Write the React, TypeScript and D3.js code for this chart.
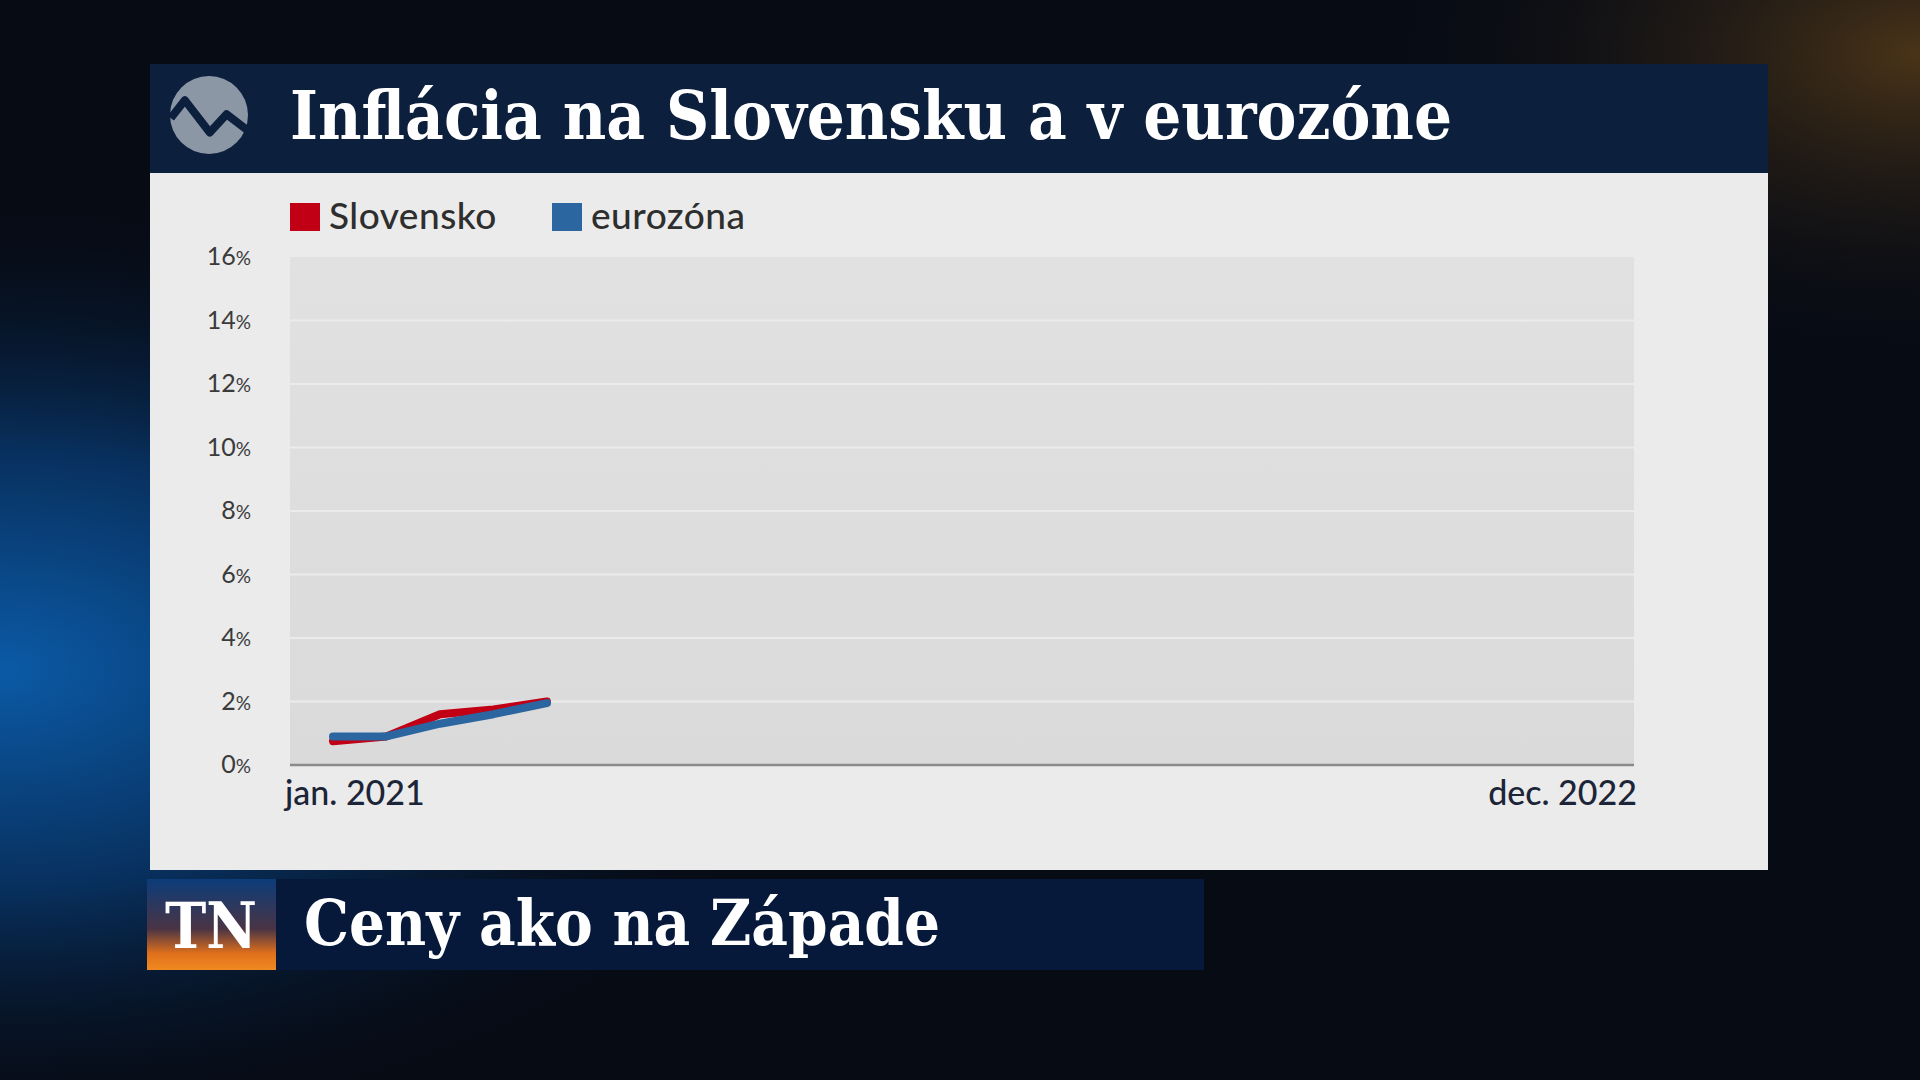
import { useEffect, useRef } from "react";
import * as d3 from "d3";

const months = [
  "2021-01", "2021-02", "2021-03", "2021-04", "2021-05", "2021-06",
  "2021-07", "2021-08", "2021-09", "2021-10", "2021-11", "2021-12",
  "2022-01", "2022-02", "2022-03", "2022-04", "2022-05", "2022-06",
  "2022-07", "2022-08", "2022-09", "2022-10", "2022-11", "2022-12",
];
// values only drawn so far for the first months (animation frame)
const slovensko = [0.75, 0.9, 1.6, 1.75, 2.0];
const eurozona = [0.9, 0.9, 1.3, 1.6, 1.95];
const yTicks = [0, 2, 4, 6, 8, 10, 12, 14, 16];
const xLabels = ["jan. 2021", "dec. 2022"];
const seriesNames = ["Slovensko", "eurozóna"];
const seriesColors = ["#c10016", "#2b66a0"];

const title = "Inflácia na Slovensku a v eurozóne";
const ticker = "Ceny ako na Západe";

const W = 1920;
const H = 1080;
const panel = { x: 150, y: 173, w: 1618, h: 697 };
const plot = { left: 290, right: 1634, top: 257, bottom: 765 };

export default function App() {
  const svgRef = useRef<SVGSVGElement>(null);

  useEffect(() => {
    document.body.style.margin = "0";
    if (!svgRef.current) return;
    const svg = d3.select(svgRef.current);
    svg.selectAll("*").remove();

    const defs = svg.append("defs");
    const bgBlue = defs.append("radialGradient").attr("id", "bgBlue")
      .attr("cx", 0.0).attr("cy", 0.62).attr("r", 0.45);
    bgBlue.append("stop").attr("offset", "0%").attr("stop-color", "#0b5aa6");
    bgBlue.append("stop").attr("offset", "45%").attr("stop-color", "#08305e");
    bgBlue.append("stop").attr("offset", "100%").attr("stop-color", "#060a14").attr("stop-opacity", 0);
    const bgOrange = defs.append("radialGradient").attr("id", "bgOrange")
      .attr("cx", 1.0).attr("cy", 0.05).attr("r", 0.3);
    bgOrange.append("stop").attr("offset", "0%").attr("stop-color", "#4a3418");
    bgOrange.append("stop").attr("offset", "100%").attr("stop-color", "#060a14").attr("stop-opacity", 0);
    const plotGrad = defs.append("linearGradient").attr("id", "plotGrad")
      .attr("x1", 0).attr("y1", 0).attr("x2", 0).attr("y2", 1);
    plotGrad.append("stop").attr("offset", "0%").attr("stop-color", "#e1e1e1");
    plotGrad.append("stop").attr("offset", "100%").attr("stop-color", "#dadada");
    const tnGrad = defs.append("linearGradient").attr("id", "tnGrad")
      .attr("x1", 0).attr("y1", 0).attr("x2", 0).attr("y2", 1);
    tnGrad.append("stop").attr("offset", "0%").attr("stop-color", "#0c3c7a");
    tnGrad.append("stop").attr("offset", "55%").attr("stop-color", "#4a3444");
    tnGrad.append("stop").attr("offset", "82%").attr("stop-color", "#e0701c");
    tnGrad.append("stop").attr("offset", "100%").attr("stop-color", "#f08a20");

    // background
    svg.append("rect").attr("width", W).attr("height", H).attr("fill", "#070b14");
    svg.append("rect").attr("width", W).attr("height", H).attr("fill", "url(#bgBlue)");
    svg.append("rect").attr("width", W).attr("height", H).attr("fill", "url(#bgOrange)");

    // title bar
    svg.append("rect").attr("x", panel.x).attr("y", 64).attr("width", panel.w).attr("height", panel.y - 64)
      .attr("fill", "#0c1f3d");
    const cx = 209, cy = 115, r = 39;
    svg.append("circle").attr("cx", cx).attr("cy", cy).attr("r", r).attr("fill", "#8c97a6");
    const zig: [number, number][] = [
      [cx - r * 0.98, cy + 0.08 * r], [cx - 0.62 * r, cy - 0.38 * r],
      [cx + 0.02 * r, cy + 0.45 * r], [cx + 0.45 * r, cy - 0.02 * r], [cx + r, cy + 0.4 * r],
    ];
    svg.append("path").attr("d", d3.line()(zig)).attr("fill", "none")
      .attr("stroke", "#0c1f3d").attr("stroke-width", 8).attr("stroke-linejoin", "round");
    svg.append("text").attr("x", 290).attr("y", 139)
      .attr("font-family", "'DejaVu Serif', serif").attr("font-weight", 700).attr("font-size", 68)
      .attr("fill", "#ffffff").attr("textLength", 1162).attr("lengthAdjust", "spacingAndGlyphs")
      .text(title);

    // panel
    svg.append("rect").attr("x", panel.x).attr("y", panel.y).attr("width", panel.w).attr("height", panel.h)
      .attr("fill", "#ebebeb");

    const x = d3.scaleLinear().domain([0, months.length - 1]).range([333, 1563]);
    const y = d3.scaleLinear().domain([0, 16]).range([plot.bottom, plot.top]);

    const g = svg.append("g");
    g.append("rect").attr("x", plot.left).attr("y", plot.top)
      .attr("width", plot.right - plot.left).attr("height", plot.bottom - plot.top)
      .attr("fill", "url(#plotGrad)");

    // gridlines
    g.selectAll("line.grid").data(yTicks.filter(t => t > 0 && t < 16)).join("line")
      .attr("class", "grid")
      .attr("x1", plot.left).attr("x2", plot.right)
      .attr("y1", d => y(d)).attr("y2", d => y(d))
      .attr("stroke", "#ebebeb").attr("stroke-width", 2);

    // y labels
    const yl = g.selectAll("text.ytick").data(yTicks).join("text")
      .attr("class", "ytick")
      .attr("x", 251).attr("y", d => y(d) + 8)
      .attr("text-anchor", "end")
      .attr("font-family", "Lato, sans-serif").attr("font-size", 25)
      .attr("fill", "#3a3a3a");
    yl.append("tspan").text(d => String(d));
    yl.append("tspan").attr("font-size", 19).text("%");

    // axis line
    g.append("line").attr("x1", plot.left).attr("x2", plot.right)
      .attr("y1", plot.bottom).attr("y2", plot.bottom)
      .attr("stroke", "#8a8a8a").attr("stroke-width", 2.5);

    // x labels
    g.append("text").attr("x", 285).attr("y", 805)
      .attr("font-family", "Lato, sans-serif").attr("font-size", 34).attr("font-weight", 500)
      .attr("fill", "#1c2538").text(xLabels[0]);
    g.append("text").attr("x", 1637).attr("y", 805).attr("text-anchor", "end")
      .attr("font-family", "Lato, sans-serif").attr("font-size", 34).attr("font-weight", 500)
      .attr("fill", "#1c2538").text(xLabels[1]);

    // lines
    const line = d3.line<number>().x((_, i) => x(i)).y(d => y(d));
    [slovensko, eurozona].forEach((s, i) => {
      g.append("path").datum(s).attr("d", line).attr("fill", "none")
        .attr("stroke", seriesColors[i]).attr("stroke-width", 8)
        .attr("stroke-linejoin", "round").attr("stroke-linecap", "round");
    });

    // legend
    const legendX = [290, 552];
    seriesNames.forEach((name, i) => {
      g.append("rect").attr("x", legendX[i]).attr("y", 203).attr("width", 30).attr("height", 28)
        .attr("fill", seriesColors[i]);
      g.append("text").attr("x", legendX[i] + 39).attr("y", 229)
        .attr("font-family", "Lato, sans-serif").attr("font-size", 37).attr("font-weight", 500)
        .attr("letter-spacing", 0.5)
        .attr("fill", "#2e2e2e").text(name);
    });

    // bottom ticker
    svg.append("rect").attr("x", 276).attr("y", 879).attr("width", 928).attr("height", 91)
      .attr("fill", "#06193a");
    svg.append("rect").attr("x", 147).attr("y", 879).attr("width", 129).attr("height", 91)
      .attr("fill", "url(#tnGrad)");
    svg.append("text").attr("x", 211).attr("y", 948).attr("text-anchor", "middle")
      .attr("font-family", "'DejaVu Serif', serif").attr("font-weight", 700).attr("font-size", 64)
      .attr("fill", "#ffffff").attr("textLength", 92).attr("lengthAdjust", "spacingAndGlyphs")
      .text("TN");
    svg.append("text").attr("x", 304).attr("y", 945)
      .attr("font-family", "'DejaVu Serif', serif").attr("font-weight", 700).attr("font-size", 64)
      .attr("fill", "#ffffff").attr("textLength", 636).attr("lengthAdjust", "spacingAndGlyphs")
      .text(ticker);
  }, []);

  return (
    <svg ref={svgRef} width={W} height={H} style={{ display: "block", position: "absolute", left: 0, top: 0 }} />
  );
}
